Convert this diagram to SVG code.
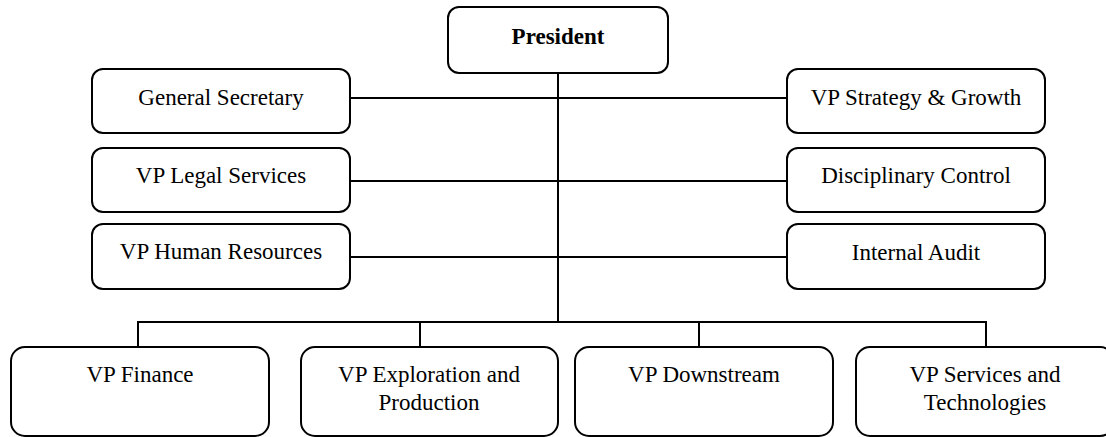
<svg xmlns="http://www.w3.org/2000/svg" width="1106" height="437" viewBox="0 0 1106 437">
<style>
.box{fill:#fff;stroke:#000;stroke-width:2}
.t{font-family:"Liberation Serif","DejaVu Serif",serif;font-size:23px;fill:#000;text-anchor:middle}
.b{font-weight:bold}
.c{stroke:#000;stroke-width:2;fill:none}
</style>
<rect width="1106" height="437" fill="#fff"/>
<g id="connectors">
<path class="c" d="M558 73V322"/>
<path class="c" d="M350 98H787"/>
<path class="c" d="M350 181H787"/>
<path class="c" d="M350 257H787"/>
<path class="c" d="M138 347V322H986V347"/>
<path class="c" d="M420 322V347"/>
<path class="c" d="M699 322V347"/>
</g>
<g id="president"><rect class="box" x="448" y="7" width="220" height="66" rx="11"/><text class="t b" x="558" y="44">President</text></g>
<g id="general-secretary"><rect class="box" x="92" y="69" width="258" height="64" rx="11"/><text class="t" x="221" y="105">General Secretary</text></g>
<g id="vp-legal"><rect class="box" x="92" y="148" width="258" height="64" rx="11"/><text class="t" x="221" y="183">VP Legal Services</text></g>
<g id="vp-hr"><rect class="box" x="92" y="224" width="258" height="65" rx="11"/><text class="t" x="221" y="259">VP Human Resources</text></g>
<g id="vp-strategy"><rect class="box" x="787" y="69" width="258" height="64" rx="11"/><text class="t" x="916" y="105">VP Strategy &amp; Growth</text></g>
<g id="disciplinary"><rect class="box" x="787" y="148" width="258" height="64" rx="11"/><text class="t" x="916" y="183">Disciplinary Control</text></g>
<g id="internal-audit"><rect class="box" x="787" y="224" width="258" height="65" rx="11"/><text class="t" x="916" y="260">Internal Audit</text></g>
<g id="vp-finance"><rect class="box" x="11" y="347" width="258" height="89" rx="14"/><text class="t" x="140" y="382">VP Finance</text></g>
<g id="vp-exploration"><rect class="box" x="301" y="347" width="257" height="89" rx="14"/><text class="t" x="429" y="382">VP Exploration and</text><text class="t" x="429" y="410">Production</text></g>
<g id="vp-downstream"><rect class="box" x="575" y="347" width="258" height="89" rx="14"/><text class="t" x="704" y="382">VP Downstream</text></g>
<g id="vp-services"><rect class="box" x="856" y="347" width="258" height="89" rx="14"/><text class="t" x="985" y="382">VP Services and</text><text class="t" x="985" y="410">Technologies</text></g>
</svg>
